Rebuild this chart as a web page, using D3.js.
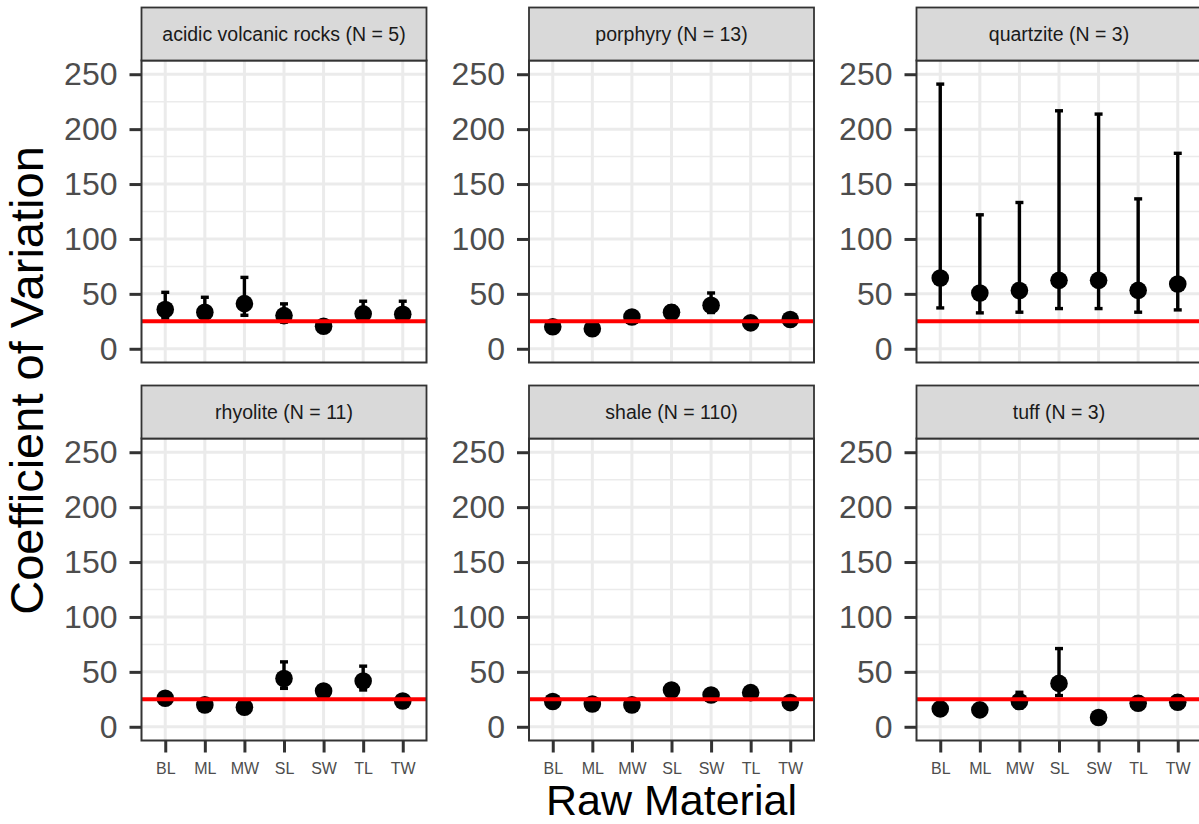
<!DOCTYPE html>
<html>
<head>
<meta charset="utf-8">
<script src="https://cdn.jsdelivr.net/npm/d3@7"></script>
<style>
  body { margin: 0; background: #fff; }
  svg { display: block; font-family: "Liberation Sans", Arial, Helvetica, sans-serif; }
</style>
</head>
<body>
<div id="chart"></div>
<script>
// categories on the x axis (same in every facet)
const categories = ["BL", "ML", "MW", "SL", "SW", "TL", "TW"];

// facet labels, in panel order (row by row)
const facets = [
  "acidic volcanic rocks (N = 5)",
  "porphyry (N = 13)",
  "quartzite (N = 3)",
  "rhyolite (N = 11)",
  "shale (N = 110)",
  "tuff (N = 3)"
];

// coefficient of variation, one row per facet
const cvMean = [
  [35.7, 33.2, 41.1, 30.2, 20.5, 31.8, 31.4],
  [20.0, 18.2, 29.0, 33.3, 39.6, 23.6, 26.6],
  [64.5, 50.8, 53.0, 62.3, 62.3, 53.2, 59.0],
  [26.0, 19.9, 17.8, 44.0, 32.6, 41.6, 23.5],
  [23.0, 20.8, 19.9, 33.5, 29.0, 31.1, 22.0],
  [16.3, 15.4, 23.0, 39.5, 8.5, 21.4, 22.3]
];
const cvLower = [
  [28.0, 27.0, 30.5, 24.5, 18.0, 26.0, 26.0],
  [17.5, 16.0, 26.0, 28.5, 33.0, 21.0, 24.0],
  [37.2, 32.7, 33.3, 36.6, 36.6, 33.3, 35.4],
  [23.5, 18.0, 16.0, 35.0, 28.5, 33.5, 21.5],
  [21.5, 19.5, 18.5, 31.0, 27.0, 29.0, 20.5],
  [14.0, 13.5, 17.0, 28.4, 7.0, 17.0, 17.0]
];
const cvUpper = [
  [51.4, 46.9, 65.0, 40.9, 23.0, 43.3, 43.3],
  [22.5, 20.5, 32.0, 39.0, 50.8, 26.0, 29.0],
  [241.0, 122.0, 133.2, 216.7, 213.7, 136.5, 178.0],
  [28.5, 22.0, 19.5, 59.1, 37.5, 55.2, 25.5],
  [24.5, 22.0, 21.5, 36.0, 31.0, 33.0, 23.5],
  [18.5, 17.5, 31.4, 71.2, 10.0, 27.0, 28.0]
];

const yTicks = [0, 50, 100, 150, 200, 250];
const yMinor = [25, 75, 125, 175, 225];
const refValue = 25;

const width = 1199;
const height = 824;

// panel geometry
const colX = [141.5, 529, 916.5];
const rowY = [60.5, 438.5];
const panelW = 285;
const panelH = 302;
const stripH = 53;

const svg = d3.select("#chart").append("svg")
  .attr("width", width)
  .attr("height", height);

svg.append("rect")
  .attr("width", width)
  .attr("height", height)
  .attr("fill", "#fff");

// ggplot style: discrete axis expanded by 0.6 on each side,
// y held to 0..250 with 5% expansion
const x = d3.scalePoint()
  .domain(categories)
  .range([0, panelW])
  .padding(0.6);

const y = d3.scaleLinear()
  .domain([-12.5, 262.5])
  .range([panelH, 0]);

facets.forEach((label, i) => {
  const col = i % 3;
  const row = Math.floor(i / 3);
  const g = svg.append("g")
    .attr("transform", `translate(${colX[col]},${rowY[row]})`);

  // grid lines
  g.append("g").selectAll("line")
    .data(yMinor)
    .join("line")
    .attr("x1", 0).attr("x2", panelW)
    .attr("y1", d => y(d)).attr("y2", d => y(d))
    .attr("stroke", "#EBEBEB")
    .attr("stroke-width", 1.5);

  g.append("g").selectAll("line")
    .data(yTicks)
    .join("line")
    .attr("x1", 0).attr("x2", panelW)
    .attr("y1", d => y(d)).attr("y2", d => y(d))
    .attr("stroke", "#EBEBEB")
    .attr("stroke-width", 3);

  g.append("g").selectAll("line")
    .data(categories)
    .join("line")
    .attr("x1", d => x(d)).attr("x2", d => x(d))
    .attr("y1", 0).attr("y2", panelH)
    .attr("stroke", "#EBEBEB")
    .attr("stroke-width", 3);

  const pts = categories.map((c, j) => ({
    cat: c, mean: cvMean[i][j], lo: cvLower[i][j], hi: cvUpper[i][j]
  }));

  // error bars
  const bars = g.append("g").selectAll("g")
    .data(pts)
    .join("g")
    .attr("stroke", "#000")
    .attr("stroke-width", 3.4);
  bars.append("line")
    .attr("x1", d => x(d.cat)).attr("x2", d => x(d.cat))
    .attr("y1", d => y(d.lo)).attr("y2", d => y(d.hi));
  bars.append("line")
    .attr("x1", d => x(d.cat) - 4).attr("x2", d => x(d.cat) + 4)
    .attr("y1", d => y(d.hi)).attr("y2", d => y(d.hi));
  bars.append("line")
    .attr("x1", d => x(d.cat) - 4).attr("x2", d => x(d.cat) + 4)
    .attr("y1", d => y(d.lo)).attr("y2", d => y(d.lo));

  // points
  g.append("g").selectAll("circle")
    .data(pts)
    .join("circle")
    .attr("cx", d => x(d.cat))
    .attr("cy", d => y(d.mean))
    .attr("r", 8.8)
    .attr("fill", "#000");

  // reference line at 25
  g.append("line")
    .attr("x1", 0).attr("x2", panelW)
    .attr("y1", y(refValue)).attr("y2", y(refValue))
    .attr("stroke", "#FF0000")
    .attr("stroke-width", 4);

  // y axis on every panel
  const yAxis = g.append("g")
    .call(d3.axisLeft(y).tickValues(yTicks).tickSize(12).tickPadding(12));
  yAxis.select(".domain").remove();
  yAxis.selectAll(".tick line").attr("stroke", "#333").attr("stroke-width", 3);
  yAxis.selectAll(".tick text")
    .attr("fill", "#4D4D4D")
    .style("font-size", "32px");

  // x axis only on the bottom row
  if (row === 1) {
    const xAxis = g.append("g")
      .attr("transform", `translate(0,${panelH})`)
      .call(d3.axisBottom(x).tickSize(12).tickPadding(10));
    xAxis.select(".domain").remove();
    xAxis.selectAll(".tick line").attr("stroke", "#333").attr("stroke-width", 3);
    xAxis.selectAll(".tick text")
      .attr("fill", "#4D4D4D")
      .style("font-size", "16px");
  }

  // panel border
  g.append("rect")
    .attr("width", panelW)
    .attr("height", panelH)
    .attr("fill", "none")
    .attr("stroke", "#333")
    .attr("stroke-width", 2);

  // facet strip
  g.append("rect")
    .attr("y", -stripH)
    .attr("width", panelW)
    .attr("height", stripH)
    .attr("fill", "#D9D9D9")
    .attr("stroke", "#333")
    .attr("stroke-width", 1.8);
  g.append("text")
    .attr("x", panelW / 2)
    .attr("y", -stripH / 2)
    .attr("dy", "0.35em")
    .attr("text-anchor", "middle")
    .attr("fill", "#1A1A1A")
    .style("font-size", "19.5px")
    .text(label);
});

// axis titles
svg.append("text")
  .attr("x", 671.5)
  .attr("y", 815)
  .attr("text-anchor", "middle")
  .attr("fill", "#000")
  .style("font-size", "43px")
  .text("Raw Material");

svg.append("text")
  .attr("transform", "translate(43,380.5) rotate(-90)")
  .attr("text-anchor", "middle")
  .attr("fill", "#000")
  .style("font-size", "47px")
  .text("Coefficient of Variation");
</script>
</body>
</html>
